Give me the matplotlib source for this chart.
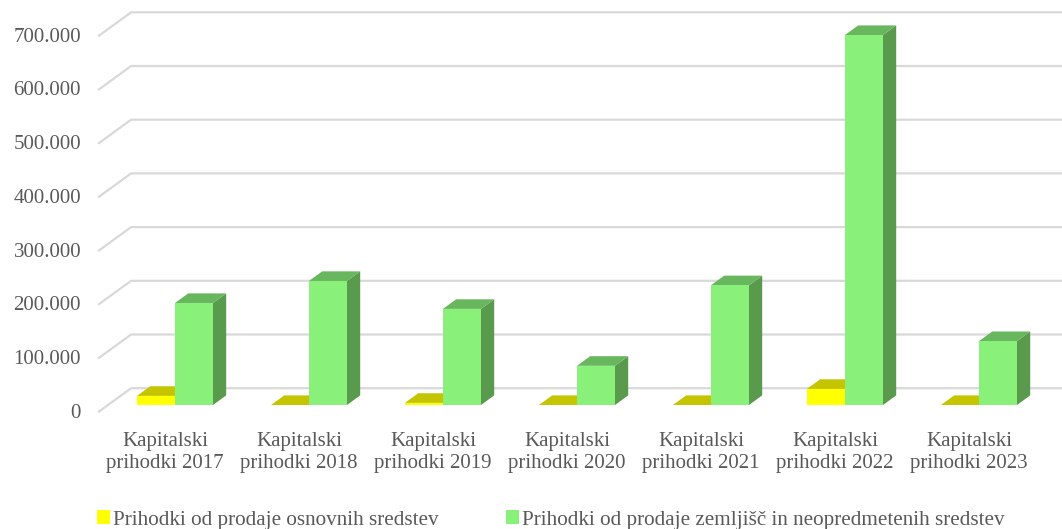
import matplotlib
matplotlib.use("Agg")
import matplotlib.pyplot as plt
from matplotlib.patches import Polygon, Patch

categories = ["Kapitalski\nprihodki 2017", "Kapitalski\nprihodki 2018", "Kapitalski\nprihodki 2019",
              "Kapitalski\nprihodki 2020", "Kapitalski\nprihodki 2021", "Kapitalski\nprihodki 2022",
              "Kapitalski\nprihodki 2023"]
series_names = ["Prihodki od prodaje osnovnih sredstev",
                "Prihodki od prodaje zemljišč in neopredmetenih sredstev"]
osnovna = [17000, 0, 4000, 0, 0, 30000, 0]
zemljisca = [190000, 231000, 179000, 73000, 223000, 689000, 119000]
yticks = [0, 100000, 200000, 300000, 400000, 500000, 600000, 700000]
ytick_labels = ["0", "100.000", "200.000", "300.000", "400.000", "500.000", "600.000", "700.000"]

W, H = 1062, 529
fig = plt.figure(figsize=(W / 100, H / 100), dpi=100)
ax = fig.add_axes([0, 0, 1, 1])
ax.set_axis_off()

# pixel layout of the 3D front plane
px_per_cat = 134.0
x0_px = 175.0
base_px = 405.0
px_per_val = 53.7 / 100000
ax.set_xlim(-x0_px / px_per_cat, (W - x0_px) / px_per_cat)
ax.set_ylim((base_px - H) / px_per_val, base_px / px_per_val)

DX = 33.0 / px_per_cat          # full depth shift in x (data units)
DY = 24.0 / (53.7 / 100000)     # full depth shift in y (data units)
d_front, d_back = -0.3, 0.7     # floor depth relative to bar front plane
bar_depth = 0.4
bw = 38.0 / px_per_cat

font = "Liberation Serif"
txt_col = "#595959"
grid_col = "#D9D9D9"

# gridlines (wall + back)
for v, lab in zip(yticks, ytick_labels):
    xs = [-0.5 + d_front * DX, -0.5 + d_back * DX, 7.5]
    ys = [v + d_front * DY, v + d_back * DY, v + d_back * DY]
    ax.plot(xs, ys, color=grid_col, lw=1.6, zorder=1, solid_capstyle="butt")
    ax.annotate(lab, xy=(xs[0], ys[0]), xytext=(-17, -1), textcoords="offset pixels",
                ha="right", va="center", fontsize=15, family=font, color=txt_col)

def bar3d(x, v, front, top, side, z):
    ax.bar([x], [v], width=bw, align="edge", color=front, zorder=z + 0.2,
           edgecolor="none")
    ddx, ddy = bar_depth * DX, bar_depth * DY
    ax.add_patch(Polygon([(x, v), (x + bw, v), (x + bw + ddx, v + ddy), (x + ddx, v + ddy)],
                         closed=True, facecolor=top, edgecolor="none", zorder=z + 0.1))
    ax.add_patch(Polygon([(x + bw, 0), (x + bw + ddx, ddy), (x + bw + ddx, v + ddy), (x + bw, v)],
                         closed=True, facecolor=side, edgecolor="none", zorder=z))

for i in range(len(categories)):
    bar3d(i - bw, osnovna[i], "#FFFF00", "#C4C400", "#A6A600", 3)
    bar3d(i, zemljisca[i], "#89F07A", "#68B65D", "#5A9A4C", 4)
    ax.annotate(categories[i], xy=(i + d_front * DX, d_front * DY), xytext=(0, -20),
                textcoords="offset pixels", ha="center", va="top", fontsize=15,
                family=font, color=txt_col, linespacing=1.18)

handles = [Patch(facecolor="#FFFF00"), Patch(facecolor="#89F07A")]
fig.legend(handles, series_names, loc="center left", bbox_to_anchor=(97 / W, 1 - 520 / H),
           ncol=2, frameon=False, prop={"family": font, "size": 15.2},
           labelcolor=txt_col, handlelength=0.6, handleheight=0.6, handletextpad=0.15,
           columnspacing=3.2, borderpad=0, borderaxespad=0)

fig.savefig("out.png", dpi=100)
